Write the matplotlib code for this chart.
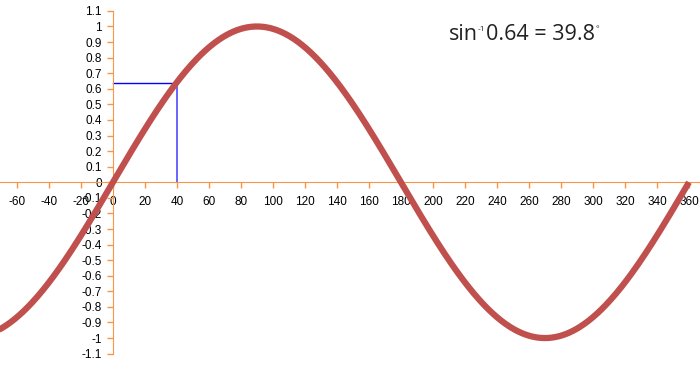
import numpy as np
import matplotlib
matplotlib.use("Agg")
import matplotlib.pyplot as plt

# Data
angle_start, angle_end = -72, 360
x_ticks = list(range(-60, 361, 20))
y_ticks = [round(v * 0.1, 1) for v in range(-11, 12)]
sin_value = 0.64
angle_value = 39.8
label_parts = [("sin", 0), ("-1", 1), ("0.64 = 39.8", 0), ("°", 1)]

deg = np.linspace(angle_start, angle_end, 800)
vals = np.sin(np.radians(deg))

fig = plt.figure(figsize=(7.0, 3.65), dpi=100)
ax = fig.add_axes([0, 0, 1, 1])
ax.set_xlim(-70.6, 366.9)
ax.set_ylim(-1.173, 1.17)

axis_color = "#F79646"
for s in ["top", "right"]:
    ax.spines[s].set_visible(False)
ax.spines["left"].set_position(("data", 0))
ax.spines["bottom"].set_position(("data", 0))
ax.spines["left"].set_bounds(-1.1, 1.1)
ax.spines["left"].set_color(axis_color)
ax.spines["bottom"].set_color(axis_color)

ax.plot(deg, vals, color="#C0504D", lw=4.5, solid_capstyle="butt", zorder=3)

# helper lines
ax.plot([0, angle_value], [sin_value, sin_value], color="#0000FF", lw=1.0, zorder=2)
ax.plot([angle_value, angle_value], [0, sin_value], color="#5A5AFF", lw=1.3, zorder=2)

def fmt(v):
    s = "%.1f" % v
    if s.endswith(".0"):
        s = s[:-2]
    if s == "-0":
        s = "0"
    return s

ax.set_xticks(x_ticks)
ax.set_xticklabels([str(t) for t in x_ticks])
ax.set_yticks(y_ticks)
ax.set_yticklabels([fmt(v) for v in y_ticks])
ax.tick_params(axis="x", direction="out", length=4, width=1, color=axis_color,
               pad=6, labelsize=8.5)
ax.tick_params(axis="y", direction="out", length=4, width=1, color=axis_color,
               pad=4, labelsize=8.5)
for lab in ax.get_xticklabels() + ax.get_yticklabels():
    lab.set_fontfamily("Liberation Sans")

# annotation built from parts
renderer = fig.canvas.get_renderer()
x0, base = 449, 325
cur = x0
for txt, sup in label_parts:
    size = 6 if sup else 15.5
    dy = 9 if sup else 0
    t = fig.text(cur / 700, (base + dy) / 365, txt, fontsize=size,
                 fontfamily="Open Sans", va="baseline", ha="left", color="#222222")
    bb = t.get_window_extent(renderer)
    cur = bb.x1 + (1 if sup else 0)

fig.savefig("out.png", dpi=100)
